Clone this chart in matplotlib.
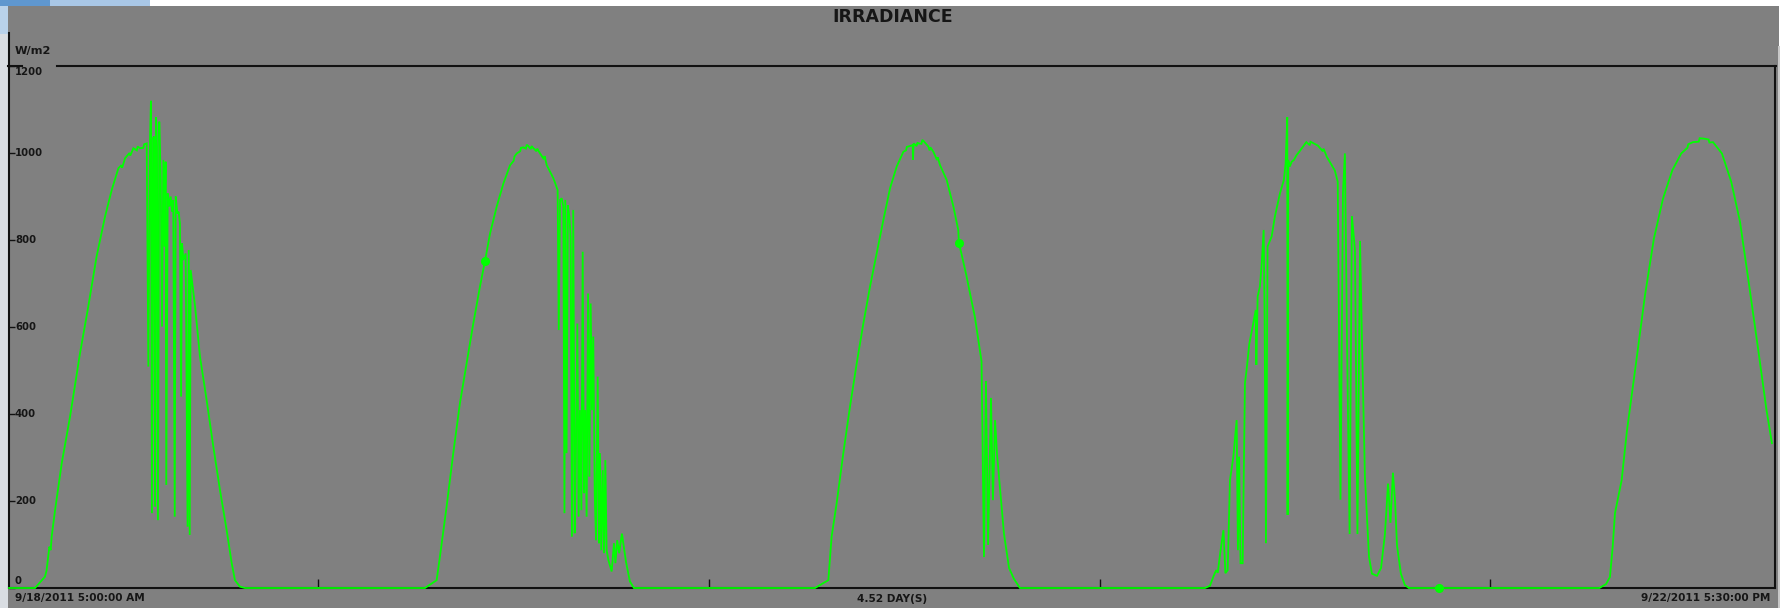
import matplotlib
matplotlib.use("Agg")
import matplotlib.pyplot as plt
from matplotlib.patches import Rectangle
from matplotlib.lines import Line2D

# ---------------- text ----------------
title = "IRRADIANCE"
unit_label = "W/m2"
start_label = "9/18/2011 5:00:00 AM"
span_label = "4.52 DAY(S)"
end_label = "9/22/2011 5:30:00 PM"

# y axis ticks (W/m2) and x axis (hours since 9/18/2011 5:00 AM)
y_ticks = [0, 200, 400, 600, 800, 1000, 1200]
midnight_hours = [19, 43, 67, 91]
span_hours = 108.48

# ---------------- data: hours since start, irradiance W/m2 ----------------
day1_h = [0, 1.60, 2.21, 2.31, 2.48, 2.56, 2.62, 2.83, 3.24, 3.75,
          4.36, 4.87, 5.38, 5.90, 6.31, 6.72, 6.90, 6.95, 7.13, 7.40,
          7.45, 7.64, 7.85, 7.90, 8.05, 8.25, 8.30, 8.46,
          8.56, 8.66, 8.72, 8.78, 8.85, 8.91, 8.97, 9.03, 9.09, 9.15,
          9.23, 9.32, 9.40, 9.48, 9.56, 9.62, 9.66, 9.75, 9.85, 9.93,
          10.01, 10.09, 10.18, 10.24, 10.34, 10.42, 10.50, 10.57, 10.63, 10.71,
          10.85, 10.97, 11.04, 11.10, 11.16, 11.28, 11.43, 11.73, 12.14, 12.55,
          12.96, 13.37, 13.68, 13.88, 14.19, 14.50]
day1_v = [0, 0, 26, 41, 95, 87, 118, 179, 287, 394,
          539, 647, 762, 854, 915, 965, 972, 966, 988, 1000,
          994, 1011, 1006, 1015, 1011, 1012, 1020, 1022,
          509, 1030, 1120, 172, 1034, 1038, 187, 1082, 1015, 156,
          1072, 938, 601, 984, 785, 980, 237, 907, 877, 900,
          865, 892, 164, 900, 861, 865, 838, 440, 792, 754,
          769, 141, 777, 122, 731, 693, 647, 532, 432, 325,
          225, 133, 57, 18, 3, 0]

day2_h = [25.55, 26.27, 26.47, 26.88, 27.29, 27.70, 28.11, 28.52, 28.93, 29.24,
          29.55, 29.96, 30.37, 30.78, 31.00, 31.05, 31.19, 31.40, 31.45, 31.59,
          31.75, 31.80, 31.90, 32.05, 32.10, 32.21, 32.40, 32.45, 32.62, 32.85,
          32.90, 33.03,
          33.44, 33.70, 33.77, 33.85, 33.95, 34.05, 34.12, 34.17, 34.25, 34.33,
          34.42, 34.50, 34.58, 34.66, 34.75, 34.83, 34.91, 34.99, 35.07, 35.16,
          35.24, 35.32, 35.40, 35.48, 35.57, 35.65, 35.73, 35.81, 35.89, 35.98,
          36.06, 36.16, 36.24, 36.30, 36.38, 36.47, 36.55, 36.63, 36.71, 36.82,
          37.02, 37.16, 37.25, 37.36, 37.48, 37.65, 37.90, 38.14, 38.39]
day2_v = [0, 18, 72, 187, 310, 425, 516, 608, 693, 752,
          815, 877, 930, 972, 982, 992, 999, 1004, 1012, 1013,
          1010, 1019, 1016, 1009, 1016, 1011, 1004, 1010, 999, 986,
          993, 972,
          942, 915, 593, 892, 896, 877, 172, 892, 310, 880,
          854, 808, 118, 869, 126, 333, 608, 164, 409, 179,
          773, 218, 409, 164, 677, 256, 654, 409, 578, 218,
          110, 486, 103, 310, 87, 271, 80, 294, 87, 64,
          38, 103, 57, 110, 80, 125, 60, 15, 0]

day3_h = [49.51, 50.33, 50.53, 50.84, 51.25, 51.66, 52.07, 52.48, 52.89, 53.30,
          53.71, 54.12, 54.53, 54.94, 55.10, 55.15, 55.25, 55.51, 55.53, 55.57,
          55.75, 55.80, 55.86, 56.05, 56.10, 56.17,
          56.47, 56.55, 56.60, 56.78, 57.00, 57.05, 57.19, 57.60, 58.01, 58.31,
          58.35, 58.80, 59.34, 59.74,
          59.89, 60.01, 60.14, 60.32, 60.44, 60.57, 60.69, 60.87, 61.12, 61.43,
          61.73, 62.10]
day3_v = [0, 18, 118, 195, 310, 417, 516, 608, 693, 769,
          846, 919, 969, 1003, 1006, 1014, 1015, 1018, 984, 1022,
          1016, 1024, 1022, 1021, 1030, 1028,
          1015, 1006, 1013, 1003, 984, 990, 972, 938, 877, 823,
          794, 720, 621, 521,
          71, 476, 99, 437, 202, 386, 308, 230, 124, 46,
          21, 0]

day4_h = [73.46, 73.77, 73.98, 74.15, 74.25, 74.40, 74.60, 74.72, 74.86, 75.00,
          75.21, 75.41, 75.49, 75.56, 75.65, 75.78, 75.86, 75.92, 76.02, 76.19,
          76.43, 76.58, 76.62, 76.70, 76.84, 76.95, 77.07, 77.13, 77.21, 77.31,
          77.56, 77.76, 78.07, 78.31, 78.42, 78.52, 78.54, 78.58, 78.68, 78.79,
          78.93, 79.09, 79.26, 79.69, 79.90, 79.95, 80.40, 80.70, 80.75, 80.95,
          81.44, 81.62, 81.79, 81.94,
          82.06, 82.19, 82.35, 82.49, 82.68, 82.83, 82.99, 83.11, 83.29, 83.54,
          83.72, 84.03, 84.28, 84.52, 84.71, 84.86, 85.01, 85.14, 85.26, 85.50,
          85.74, 85.99]
day4_v = [0, 5, 26, 41, 35, 80, 133, 34, 41, 248,
          302, 386, 87, 302, 57, 57, 302, 471, 501, 562,
          608, 639, 513, 670, 693, 746, 823, 616, 103, 785,
          808, 854, 907, 938, 976, 1082, 168, 984, 969, 980,
          984, 995, 1003, 1025, 1018, 1026, 1017, 1004, 1010, 991,
          960, 934, 203, 908,
          999, 568, 124, 855, 777, 124, 798, 568, 255, 72,
          33, 28, 46, 124, 240, 150, 265, 200, 98, 33,
          7, 0]

day5_h = [97.69, 98.10, 98.34, 98.51, 98.65, 99.06, 99.38, 99.94, 100.49, 101.04,
          101.60, 102.17, 102.72, 103.10, 103.15, 103.44, 103.80, 103.85, 104.12, 104.40,
          104.45, 104.67, 105.22, 105.79, 106.33, 106.88, 107.47, 107.95, 108.29]
day5_v = [0, 9, 25, 95, 172, 248, 360, 516, 672, 803,
          895, 960, 999, 1012, 1020, 1025, 1026, 1034, 1033, 1031,
          1024, 1025, 999, 934, 842, 699, 542, 411, 333]

marker_h = [29.24, 58.35, 87.84]
marker_v = [752, 794, 0]

# ---------------- figure ----------------
W, H = 1781, 608
BG = "#808080"
GREEN = "#00ff00"
INK = "#161616"

plt.rcParams["font.family"] = ["DejaVu Sans"]
fig = plt.figure(figsize=(W / 100, H / 100), dpi=100, facecolor="white")


def fx(px):
    return px / W


def fy(py):
    return 1 - py / H


def frect(x0, y0, x1, y1, color):
    fig.patches.append(Rectangle((fx(x0), fy(y1)), fx(x1) - fx(x0), fy(y0) - fy(y1),
                                 transform=fig.transFigure, facecolor=color,
                                 edgecolor="none", zorder=-10))


# screenshot panel
frect(0, 0, 50, 6, "#5f97cf")
frect(50, 0, 150, 6, "#a9c7e6")
frect(0, 6, 8, 34, "#b9d2ea")
frect(0, 34, 8, 608, "#d9dde2")
frect(8, 6, 1779, 608, BG)
frect(1778, 46, 1781, 608, "#c8c8c8")

ax = fig.add_axes([fx(9), fy(588), fx(1775) - fx(9), fy(66) - fy(588)])
ax.set_zorder(1)
ax.set_facecolor(BG)
ax.set_xlim(0, span_hours)
ax.set_ylim(0, 1200)
for side in ("left", "right", "bottom"):
    ax.spines[side].set_color("#111111")
    ax.spines[side].set_linewidth(1.5)
ax.spines["top"].set_visible(False)

# top frame line with gap, extended left axis line
for xs, ys in (([8, 22], [66, 66]), ([57, 1776], [66, 66]), ([9, 9], [33, 67])):
    fig.lines.append(Line2D([fx(x) for x in xs], [fy(y) for y in ys],
                            transform=fig.transFigure, color="#111111", lw=1.5, zorder=5))

ax.set_yticks(y_ticks)
ax.set_yticklabels([])
ax.set_xticks(midnight_hours)
ax.set_xticklabels([])
ax.tick_params(axis="y", direction="in", length=4.5, width=1.0, color="#111111")
ax.tick_params(axis="x", direction="in", length=6.5, width=1.0, color="#111111")

for v in y_ticks:
    dy = 0
    if v == 0:
        dy = 7
    elif v == 1200:
        dy = -6
    ax.annotate(str(v), xy=(0, v), xycoords=ax.get_yaxis_transform(),
                xytext=(6, dy), textcoords="offset pixels", ha="left", va="center",
                fontsize=7.3, fontweight="bold", color=INK, annotation_clip=False)

# series
t = day1_h + day2_h + day3_h + day4_h + day5_h
vals = day1_v + day2_v + day3_v + day4_v + day5_v
ax.plot(t, vals, color=GREEN, lw=1.3, zorder=3, clip_on=False, solid_joinstyle="miter")
ax.plot(marker_h, marker_v, "o", color=GREEN, ms=5.5, mec=GREEN, zorder=4, clip_on=False)

# texts
fig.text(fx(893), fy(17), title, ha="center", va="center", fontsize=12.5,
         fontweight="bold", color=INK)
fig.text(fx(15), fy(51), unit_label, ha="left", va="center", fontsize=8.2,
         fontweight="bold", color=INK)
fig.text(fx(15), fy(598), start_label, ha="left", va="center", fontsize=7.6,
         fontweight="bold", color=INK)
fig.text(fx(892), fy(599), span_label, ha="center", va="center", fontsize=7.6,
         fontweight="bold", color=INK)
fig.text(fx(1770), fy(598), end_label, ha="right", va="center", fontsize=7.6,
         fontweight="bold", color=INK)

fig.savefig("out.png", dpi=100, facecolor="white")
